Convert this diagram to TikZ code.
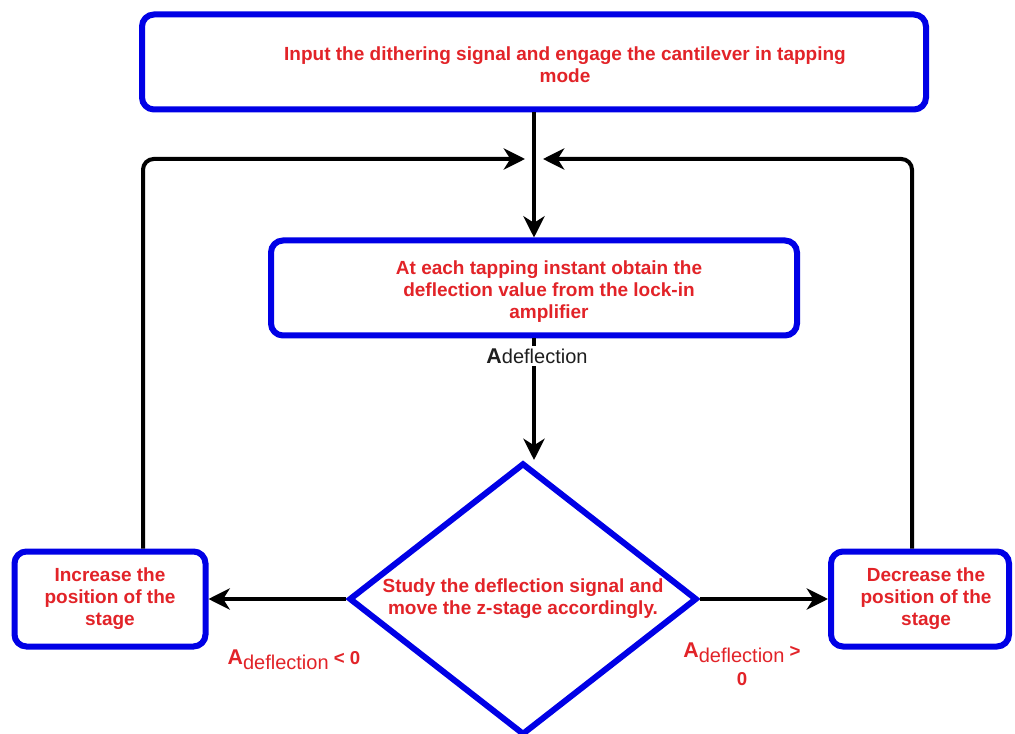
\documentclass[tikz,border=0pt]{standalone}
\usepackage{fontspec}
\setmainfont{Liberation Sans}
\usepackage{xcolor}
\usetikzlibrary{arrows.meta, shapes.geometric}

\definecolor{boxblue}{RGB}{0,0,230}
\definecolor{txtred}{RGB}{226,35,40}
\definecolor{txtdark}{RGB}{30,30,30}

\newcommand{\Adefl}{{\bfseries\fontsize{16}{18}\selectfont A}\raisebox{-4pt}{\mdseries\fontsize{15}{17}\selectfont deflection}}

\begin{document}
\begin{tikzpicture}[x=0.75pt, y=-0.75pt,
  stepbox/.style={rectangle, rounded corners=9pt, draw=boxblue, line width=4.5pt, fill=white, text=txtred, font=\fontsize{14.25}{16.5}\selectfont\bfseries, align=center, inner sep=2pt, minimum height=71.25pt},
  decision/.style={diamond, draw=boxblue, line width=4.5pt, fill=white, text=txtred, font=\fontsize{14.25}{16.5}\selectfont\bfseries, align=center, aspect=1.28, minimum width=261pt, minimum height=204pt, inner sep=0pt},
  link/.style={line width=3pt, black, -{Stealth[length=16pt, width=16pt, inset=5pt]}},
  plain/.style={line width=3pt, black},
  cond/.style={text=txtred, font=\bfseries\fontsize{14}{21}\selectfont, align=center, inner sep=1pt}
]
  \useasboundingbox[fill=white] (0,0) rectangle (1015,734);

  \node[stepbox, minimum width=588pt]    (engage) at (534,62)  {\rule{0pt}{14pt}\hspace*{46.5pt}Input the dithering signal and engage the cantilever in tapping\\\hspace*{46.5pt}mode};
  \node[stepbox, minimum width=394.5pt]  (lockin) at (534,288) {\rule{0pt}{15pt}\hspace*{22.5pt}At each tapping instant obtain the\\\hspace*{22.5pt}deflection value from the lock-in\\\hspace*{22.5pt}amplifier};
  \node[decision]                         (study)  at (523,599) {Study the deflection signal and\\move the z-stage accordingly.};
  \node[stepbox, minimum width=143.25pt] (raise)  at (110,599) {Increase the\\position of the\\stage};
  \node[stepbox, minimum width=133.5pt]  (lower)  at (920,599) {\hspace*{9pt}Decrease the\\\hspace*{9pt}position of the\\\hspace*{9pt}stage};

  \node[text=txtdark, inner sep=2pt] (defl) at (537,356) {{\bfseries\fontsize{16}{18}\selectfont A}{\fontsize{15}{17}\selectfont deflection}};
  \node[cond] (neg) at (294,660) {\Adefl\ <\ 0};
  \node[cond] (pos) at (742,664) {\Adefl\ >\\0};

  \coordinate (jl) at (525,159);
  \coordinate (jr) at (543,159);

  \draw[link] (engage) -- (lockin);
  \draw[plain] (lockin.south) -- (lockin.south |- defl.north);
  \draw[link] (defl.south -| lockin.south) -- (lockin.south |- study.north);
  \draw[link] (study.west) -- (raise.east);
  \draw[link] (study.east) -- (lower.west);
  \draw[link, rounded corners=8pt] ([xshift=24.75pt]raise.north) |- (jl);
  \draw[link, rounded corners=8pt] ([xshift=-6pt]lower.north) |- (jr);
\end{tikzpicture}
\end{document}
